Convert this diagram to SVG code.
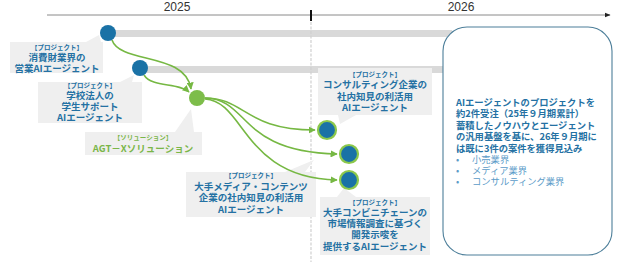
<svg xmlns="http://www.w3.org/2000/svg" width="624" height="265" viewBox="0 0 624 265">
<defs>
<marker id="ga" viewBox="0 0 10 10" refX="9" refY="5" markerWidth="4.5" markerHeight="4.5" orient="auto" markerUnits="strokeWidth">
<path d="M0,0 L10,5 L0,10 z" fill="#76b843"/>
</marker>
<marker id="ka" viewBox="0 0 10 10" refX="9" refY="5" markerWidth="6" markerHeight="6" orient="auto" markerUnits="userSpaceOnUse">
<path d="M0,1 L10,5 L0,9 z" fill="#222"/>
</marker>
<style>
.yr{font-family:"Liberation Sans",Arial,sans-serif;font-size:12px;fill:#333;text-anchor:middle}
.bar{fill:#d9d9d9}
.call{fill:#efefef}
.bn{fill:#1a72a6}
.gn{fill:#7dbd4a}
.tn{fill:#1a72a6;stroke:#8cc84b;stroke-width:2.2}
.con{fill:none;stroke:#76b843;stroke-width:1.6}
.sm{font-family:"Noto Sans CJK JP",sans-serif;font-size:6.5px;font-weight:700;fill:#2471a3;text-anchor:middle}
.lb{font-family:"Noto Sans CJK JP",sans-serif;font-size:9.5px;font-weight:700;fill:#2471a3;text-anchor:middle}
.g{fill:#7ab648}
.bx{font-family:"Noto Sans CJK JP",sans-serif;font-size:9.3px;font-weight:700;fill:#2471a3}
.bl{font-family:"Noto Sans CJK JP",sans-serif;font-size:9.3px;fill:#5b9bc8}
</style>
</defs>
<rect width="624" height="265" fill="#fff"/>

<g id="timeline">
<line x1="47" y1="15" x2="610" y2="15" stroke="#8a8a8a" stroke-width="1" marker-end="url(#ka)"/>
<line x1="311" y1="10" x2="311" y2="21" stroke="#111" stroke-width="2"/>
<text class="yr" x="177" y="11">2025</text>
<text class="yr" x="461" y="11">2026</text>
</g>

<g id="bars">
<rect class="bar" x="107" y="30" width="345" height="7"/>
<rect class="bar" x="140" y="66" width="305" height="7"/>
<line x1="311" y1="22" x2="311" y2="262" stroke="#d0d0d0" stroke-width="1.2" stroke-dasharray="3,1.5"/>
</g>

<g id="summary">
<rect x="443" y="27" width="169" height="228" rx="24" ry="24" fill="#fff" stroke="#4d7f9a" stroke-width="1.1"/>
<text class="bx" x="456" y="106">AIエージェントのプロジェクトを</text>
<text class="bx" x="456" y="117">約2件受注（25年９月期累計）</text>
<text class="bx" x="456" y="128.5">蓄積したノウハウとエージェント</text>
<text class="bx" x="456" y="140">の汎用基盤を基に、26年９月期に</text>
<text class="bx" x="456" y="151.5">は既に3件の案件を獲得見込み</text>
<text class="bl" x="456" y="163">•</text><text class="bl" x="472" y="163">小売業界</text>
<text class="bl" x="456" y="174">•</text><text class="bl" x="472" y="174">メディア業界</text>
<text class="bl" x="456" y="185">•</text><text class="bl" x="472" y="185">コンサルティング業界</text>
</g>

<g id="label1">
<path class="call" d="M10,42 H86 L99,35 L101,42 H103 V73 H10 z"/>
<text class="sm" x="57" y="50">【プロジェクト】</text>
<text class="lb" x="57" y="61">消費財業界の</text>
<text class="lb" x="57" y="72">営業AIエージェント</text>
</g>

<g id="label2">
<path class="call" d="M38,82 H120 L134,75 L132,82 H142 V123 H38 z"/>
<text class="sm" x="90" y="88">【プロジェクト】</text>
<text class="lb" x="90" y="99">学校法人の</text>
<text class="lb" x="90" y="110">学生サポート</text>
<text class="lb" x="90" y="121">AIエージェント</text>
</g>

<g id="label3">
<path class="call" d="M85,132 H175 L191,109 L194,132 H202 V155 H85 z"/>
<text class="sm g" x="143" y="140">【ソリューション】</text>
<text class="lb g" x="143" y="152">AGT－Xソリューション</text>
</g>

<g id="label4">
<path class="call" d="M318,68 H432 V115 H356 L340,124 L338,115 H318 z"/>
<text class="sm" x="375" y="77">【プロジェクト】</text>
<text class="lb" x="375" y="88">コンサルティング企業の</text>
<text class="lb" x="375" y="99.5">社内知見の利活用</text>
<text class="lb" x="375" y="111">AIエージェント</text>
</g>

<g id="label5">
<path class="call" d="M186,172 H285 L314,160 L305,172 H316 V217 H186 z"/>
<text class="sm" x="251" y="178">【プロジェクト】</text>
<text class="lb" x="251" y="189.5">大手メディア・コンテンツ</text>
<text class="lb" x="251" y="201">企業の社内知見の利活用</text>
<text class="lb" x="251" y="213">AIエージェント</text>
</g>

<g id="label6">
<path class="call" d="M320,197 H337 L344,188 L356,197 H430 V255 H320 z"/>
<text class="sm" x="375" y="205">【プロジェクト】</text>
<text class="lb" x="375" y="216">大手コンビニチェーンの</text>
<text class="lb" x="375" y="227">市場情報調査に基づく</text>
<text class="lb" x="375" y="238">開発示唆を</text>
<text class="lb" x="375" y="249.5">提供するAIエージェント</text>
</g>

<g id="connectors">
<path class="con" d="M112,40 C120,64 186,52 191,89" marker-end="url(#ga)"/>
<path class="con" d="M144,75 C152,88 178,82 189,92" marker-end="url(#ga)"/>
<path class="con" d="M205,98 C245,98 245,130 315,130" marker-end="url(#ga)"/>
<path class="con" d="M205,98 C250,99 238,152 337,154" marker-end="url(#ga)"/>
<path class="con" d="M205,99 C245,101 243,178 337,180" marker-end="url(#ga)"/>
</g>

<g id="node1"><circle class="bn" cx="108" cy="33" r="8"/></g>
<g id="node2"><circle class="bn" cx="140" cy="68" r="8"/></g>
<g id="agtx"><circle class="gn" cx="197" cy="98" r="8"/></g>
<g id="nodeA"><circle class="tn" cx="327" cy="130" r="9"/></g>
<g id="nodeB"><circle class="tn" cx="349" cy="154" r="9"/></g>
<g id="nodeC"><circle class="tn" cx="349" cy="180" r="9"/></g>
</svg>
